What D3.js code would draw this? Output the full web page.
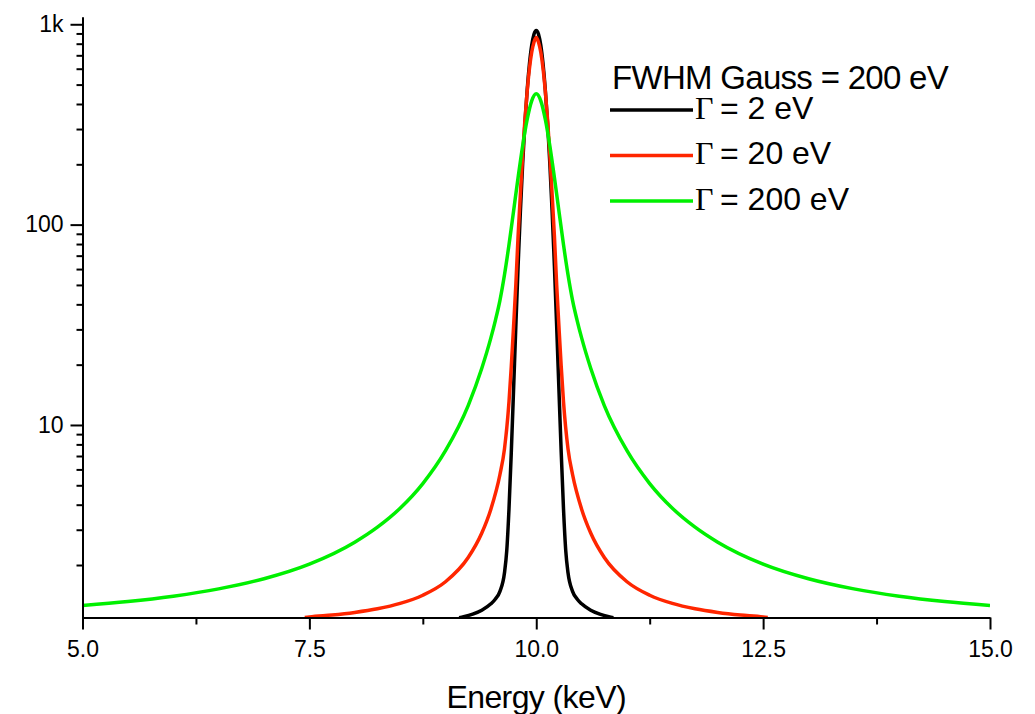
<!DOCTYPE html>
<html>
<head>
<meta charset="utf-8">
<script src="https://cdn.jsdelivr.net/npm/d3@7"></script>
<style>
  body { margin: 0; background: #fff; }
  svg { display: block; font-family: "Liberation Sans", Arial, sans-serif; }
  .axis path, .axis line { stroke: #000; stroke-width: 2; }
  .axis text { font-size: 23px; fill: #000; font-family: "Liberation Sans", Arial, sans-serif; }
</style>
</head>
<body>
<script>
const w = 1035;
const h = 714;
const margin = { left: 82.5, right: 45, top: 16.7, bottom: 96.5 };

// Gamma = 2 eV
const blackEnergy = [9.15, 9.2, 9.3, 9.4, 9.5, 9.55, 9.6, 9.65, 9.675, 9.7, 9.725, 9.75, 9.775, 9.8, 9.825, 9.85, 9.875, 9.9, 9.925, 9.95, 9.975,
  10.0, 10.025, 10.05, 10.075, 10.1, 10.125, 10.15, 10.175, 10.2, 10.225, 10.25, 10.275, 10.3, 10.325, 10.35, 10.4, 10.45, 10.5, 10.6, 10.7, 10.8, 10.85];
const blackCounts = [1.091, 1.103, 1.136, 1.189, 1.280, 1.354, 1.478, 1.83, 2.36, 3.84, 7.30, 15.0, 31.1, 62.4, 116, 200.6, 320, 469.8, 633.6, 785, 892.5,
  931.6, 892.5, 785, 633.6, 469.8, 320, 200.6, 116, 62.4, 31.1, 15.0, 7.30, 3.84, 2.36, 1.83, 1.478, 1.354, 1.280, 1.189, 1.136, 1.103, 1.091];

// Gamma = 20 eV
const redEnergy = [7.45, 7.5, 7.75, 8.0, 8.25, 8.5, 8.75, 9.0, 9.25, 9.4, 9.5, 9.6, 9.65, 9.7, 9.725, 9.75, 9.775, 9.8, 9.825, 9.85, 9.875, 9.9, 9.925, 9.95, 9.975,
  10.0, 10.025, 10.05, 10.075, 10.1, 10.125, 10.15, 10.175, 10.2, 10.225, 10.25, 10.275, 10.3, 10.35, 10.4, 10.5, 10.6, 10.75, 11.0, 11.25, 11.5, 11.75, 12.0, 12.25, 12.5, 12.55];
const redCounts = [1.093, 1.102, 1.126, 1.160, 1.209, 1.286, 1.413, 1.65, 2.18, 2.89, 3.80, 5.66, 7.6, 13.1, 19.6, 31.0, 50.1, 87.9, 141.4, 222.4, 332, 462, 601, 726, 814,
  858, 814, 726, 601, 462, 332, 222.4, 141.4, 87.9, 50.1, 31.0, 19.6, 13.1, 7.6, 5.66, 3.80, 2.89, 2.18, 1.65, 1.413, 1.286, 1.209, 1.160, 1.126, 1.102, 1.093];

// Gamma = 200 eV
const greenEnergy = [5.0, 5.5, 6.0, 6.5, 7.0, 7.5, 8.0, 8.25, 8.5, 8.75, 9.0, 9.25, 9.4, 9.5, 9.55, 9.6, 9.65, 9.7, 9.75, 9.8, 9.85, 9.9, 9.95,
  10.0, 10.05, 10.1, 10.15, 10.2, 10.25, 10.3, 10.35, 10.4, 10.45, 10.5, 10.6, 10.75, 11.0, 11.25, 11.5, 11.75, 12.0, 12.5, 13.0, 13.5, 14.0, 14.5, 15.0];
const greenCounts = [1.255, 1.314, 1.398, 1.52, 1.708, 2.02, 2.60, 3.09, 3.84, 5.10, 7.44, 12.5, 19.2, 27.2, 33.3, 41.9, 56.2, 79.5, 116.7, 172, 247, 335, 415,
  450.4, 415, 335, 247, 172, 116.7, 79.5, 56.2, 41.9, 33.3, 27.2, 19.2, 12.5, 7.44, 5.10, 3.84, 3.09, 2.60, 2.02, 1.708, 1.52, 1.398, 1.314, 1.255];

const xMajor = [5, 7.5, 10, 12.5, 15];
const xMinor = [6.25, 8.75, 11.25, 13.75];
const yMajor = [10, 100, 1000];
const yMajorLabels = ["10", "100", "1k"];
const yMinor = [2, 3, 4, 5, 6, 7, 8, 9, 20, 30, 40, 50, 60, 70, 80, 90, 200, 300, 400, 500, 600, 700, 800, 900];

const legendTitle = "FWHM Gauss = 200 eV";
const series = [
  { name: "= 2 eV", color: "#000000", x: blackEnergy, y: blackCounts },
  { name: "= 20 eV", color: "#ff2600", x: redEnergy, y: redCounts },
  { name: "= 200 eV", color: "#00f000", x: greenEnergy, y: greenCounts }
];

const xScale = d3.scaleLinear()
  .domain([5, 15])
  .range([margin.left, w - margin.right]);

const yScale = d3.scaleLog()
  .domain([1.094, 1091])
  .range([h - margin.bottom, margin.top]);

const svg = d3.select("body")
  .append("svg")
  .attr("width", w)
  .attr("height", h);

svg.append("clipPath")
  .attr("id", "plot-clip")
  .append("rect")
  .attr("x", margin.left)
  .attr("y", margin.top)
  .attr("width", w - margin.right - margin.left)
  .attr("height", h - margin.bottom - margin.top);

const line = d3.line()
  .x(d => xScale(d[0]))
  .y(d => yScale(d[1]))
  .curve(d3.curveMonotoneX);

svg.append("g")
  .attr("clip-path", "url(#plot-clip)")
  .selectAll("path")
  .data(series)
  .enter()
  .append("path")
  .attr("d", s => line(d3.zip(s.x, s.y)))
  .attr("fill", "none")
  .attr("stroke", s => s.color)
  .attr("stroke-width", 3.5)
  .attr("stroke-linejoin", "round");

// x axis, major + minor ticks
svg.append("g")
  .attr("class", "axis")
  .attr("transform", `translate(0, ${h - margin.bottom})`)
  .call(d3.axisBottom(xScale).tickValues(xMajor).tickFormat(d3.format(".1f"))
    .tickSize(12).tickSizeOuter(0).tickPadding(11));

svg.append("g")
  .attr("class", "axis")
  .attr("transform", `translate(0, ${h - margin.bottom})`)
  .call(d3.axisBottom(xScale).tickValues(xMinor).tickFormat("").tickSize(7).tickSizeOuter(0))
  .select(".domain").remove();

// y axis, major + minor ticks
svg.append("g")
  .attr("class", "axis")
  .attr("transform", `translate(${margin.left}, 0)`)
  .call(d3.axisLeft(yScale).tickValues(yMajor).tickFormat((d, i) => yMajorLabels[i])
    .tickSize(12).tickSizeOuter(0).tickPadding(7));

svg.append("g")
  .attr("class", "axis")
  .attr("transform", `translate(${margin.left}, 0)`)
  .call(d3.axisLeft(yScale).tickValues(yMinor).tickFormat("").tickSize(6).tickSizeOuter(0))
  .select(".domain").remove();

svg.append("text")
  .attr("x", xScale(10))
  .attr("y", 708)
  .attr("text-anchor", "middle")
  .attr("font-size", 32)
  .attr("letter-spacing", "-0.6px")
  .text("Energy (keV)");

// legend
const legend = svg.append("g");

legend.append("text")
  .attr("x", 612)
  .attr("y", 89)
  .attr("font-size", 33)
  .attr("letter-spacing", "-0.7px")
  .text(legendTitle);

const rows = legend.selectAll("g.row")
  .data(series)
  .enter()
  .append("g")
  .attr("class", "row")
  .attr("transform", (d, i) => `translate(0, ${110 + i * 45.5})`);

rows.append("line")
  .attr("x1", 610)
  .attr("x2", 693)
  .attr("stroke", d => d.color)
  .attr("stroke-width", 3.5);

const rowText = rows.append("text")
  .attr("y", 8.5);

rowText.append("tspan")
  .attr("x", 695)
  .attr("font-family", "'Liberation Serif', 'Times New Roman', serif")
  .attr("font-size", 32)
  .text("\u0393");

rowText.append("tspan")
  .attr("x", 720)
  .attr("font-size", 32)
  .text(d => d.name);
</script>
</body>
</html>
